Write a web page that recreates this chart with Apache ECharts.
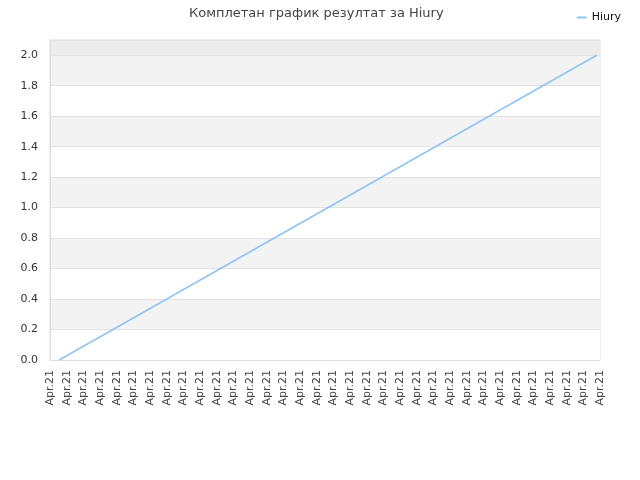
<!DOCTYPE html>
<html>
<head>
<meta charset="utf-8">
<script src="https://cdn.jsdelivr.net/npm/echarts@6/dist/echarts.min.js"></script>
<style>html,body{margin:0;padding:0;background:#fff}#c{width:640px;height:480px}</style>
</head>
<body>
<div id="c"></div>
<script>
var titleText = 'Комплетан график резултат за Hiury';
var seriesName = 'Hiury';
var xTickLabels = ['Apr.21','Apr.21','Apr.21','Apr.21','Apr.21','Apr.21','Apr.21','Apr.21','Apr.21','Apr.21','Apr.21','Apr.21','Apr.21','Apr.21','Apr.21','Apr.21','Apr.21','Apr.21','Apr.21','Apr.21','Apr.21','Apr.21','Apr.21','Apr.21','Apr.21','Apr.21','Apr.21','Apr.21','Apr.21','Apr.21','Apr.21','Apr.21','Apr.21','Apr.21'];
var xPositions = [0.55, 32.8];
var yValues = [0.0, 2.0];

var chart = echarts.init(document.getElementById('c'), null, {renderer: 'canvas'});
var data = xPositions.map(function (x, i) { return [x, yValues[i]]; });
var bandColors = ['#ffffff','#f3f3f3','#ffffff','#f3f3f3','#ffffff','#f3f3f3','#ffffff','#f3f3f3','#ffffff','#f3f3f3','#ececec'];
chart.setOption({
  animation: false,
  textStyle: {fontFamily: 'DejaVu Sans'},
  title: {
    text: titleText, left: 184, top: 2,
    textStyle: {fontSize: 13, fontWeight: 'normal', color: '#444', fontFamily: 'DejaVu Sans'}
  },
  legend: {
    right: 14, top: 7, icon: 'rect', itemWidth: 10, itemHeight: 2, itemGap: 10,
    textStyle: {fontSize: 11, color: '#111'},
    data: [seriesName]
  },
  grid: {left: 50, right: 40, top: 40, bottom: 120, show: true, borderColor: '#dddddd', borderWidth: 1, backgroundColor: 'transparent'},
  xAxis: {
    type: 'value', min: 0, max: xTickLabels.length - 1, interval: 1,
    axisLine: {show: true, lineStyle: {color: '#dddddd'}},
    axisTick: {show: false},
    splitLine: {show: false},
    axisLabel: {
      rotate: 90, fontSize: 11, color: '#444', margin: 10,
      formatter: function (v) { return xTickLabels[Math.round(v)] || ''; }
    }
  },
  yAxis: {
    type: 'value', min: 0, max: 2.1, interval: 0.2,
    axisLine: {show: true, lineStyle: {color: '#dddddd'}},
    axisTick: {show: false},
    splitLine: {show: true, lineStyle: {color: '#e2e2e2'}},
    splitArea: {show: true, areaStyle: {color: bandColors}},
    axisLabel: {
      fontSize: 11, color: '#333', margin: 12, showMaxLabel: false,
      formatter: function (v) { return v.toFixed(1); }
    }
  },
  series: [{
    name: seriesName, type: 'line', data: data, showSymbol: false,
    lineStyle: {color: '#90c3f5', width: 1.5},
    itemStyle: {color: '#90c3f5'}
  }]
});
</script>
</body>
</html>
